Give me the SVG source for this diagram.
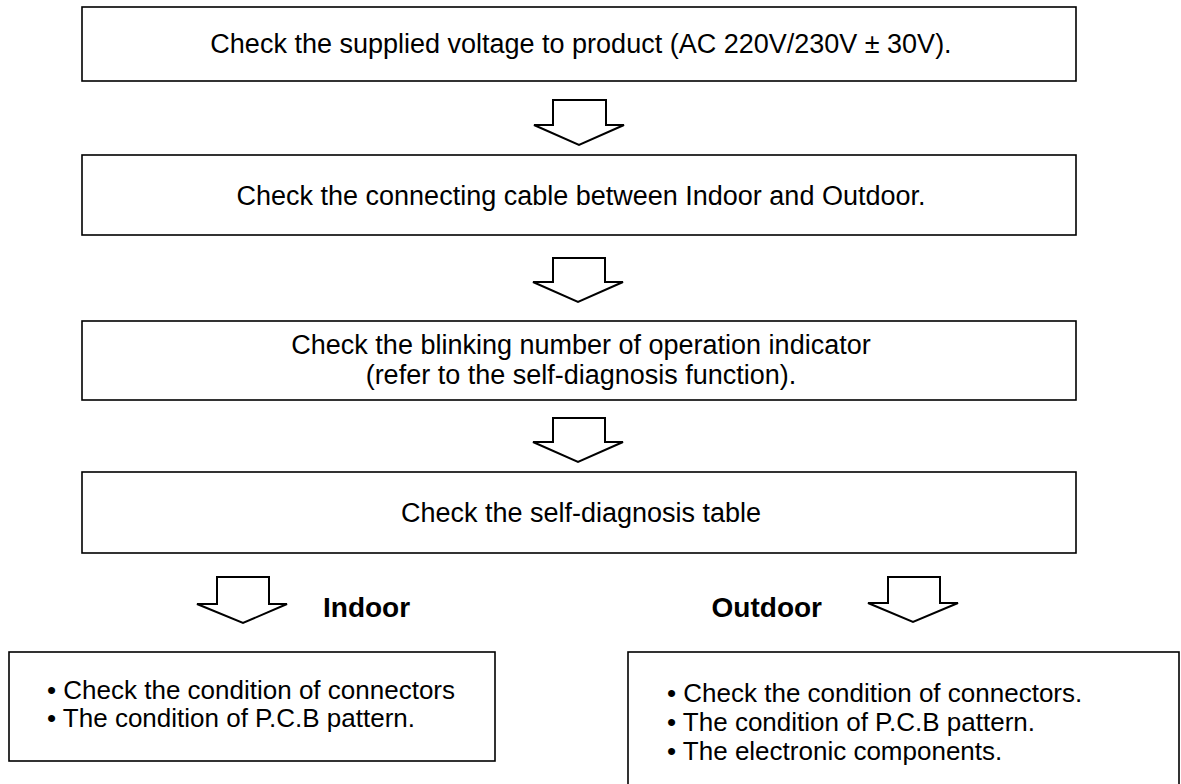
<svg xmlns="http://www.w3.org/2000/svg" width="1181" height="784" viewBox="0 0 1181 784">
<style>
.box{fill:#fff;stroke:#000;stroke-width:1.6}
.arr{fill:#fff;stroke:#000;stroke-width:2;stroke-linejoin:miter}
.t{font-family:"Liberation Sans",Arial,sans-serif;font-size:27px;fill:#000;text-anchor:middle}
.b{font-family:"Liberation Sans",Arial,sans-serif;font-size:26px;fill:#000}
.h{font-family:"Liberation Sans",Arial,sans-serif;font-size:28px;font-weight:bold;fill:#000}
</style>
<rect width="1181" height="784" fill="#fff"/>
<g id="connectors">
<path class="arr" d="M553,100 H606 V125 H624 L579,145 L534,125 H553 Z"/>
<path class="arr" d="M553,258 H605 V282 H623 L578,302 L533,282 H553 Z"/>
<path class="arr" d="M553,418 H605 V442 H623 L578,462 L533,442 H553 Z"/>
<path class="arr" d="M217,577 H269 V604 H287 L243,623 L197,604 H217 Z"/>
<path class="arr" d="M888,577 H940 V603 H958 L913,622 L868,603 H888 Z"/>
</g>
<g id="n1"><rect class="box" x="82" y="7" width="994" height="74"/><text class="t" x="581" y="53">Check the supplied voltage to product (AC 220V/230V ± 30V).</text></g>
<g id="n2"><rect class="box" x="82" y="155" width="994" height="80"/><text class="t" x="581" y="205">Check the connecting cable between Indoor and Outdoor.</text></g>
<g id="n3"><rect class="box" x="82" y="321" width="994" height="79"/><text class="t" x="581" y="354">Check the blinking number of operation indicator</text><text class="t" x="581" y="384">(refer to the self-diagnosis function).</text></g>
<g id="n4"><rect class="box" x="82" y="472" width="994" height="81"/><text class="t" x="581" y="522">Check the self-diagnosis table</text></g>
<g id="lbl-indoor"><text class="h" x="323" y="617">Indoor</text></g>
<g id="lbl-outdoor"><text class="h" x="822" y="617" text-anchor="end">Outdoor</text></g>
<g id="n5"><rect class="box" x="9" y="652" width="486" height="109"/><text class="b" x="47" y="699">• Check the condition of connectors</text><text class="b" x="47" y="727">• The condition of P.C.B pattern.</text></g>
<g id="n6"><rect class="box" x="628" y="652" width="551" height="140"/><text class="b" x="667" y="702">• Check the condition of connectors.</text><text class="b" x="667" y="731">• The condition of P.C.B pattern.</text><text class="b" x="667" y="760">• The electronic components.</text></g>
</svg>
